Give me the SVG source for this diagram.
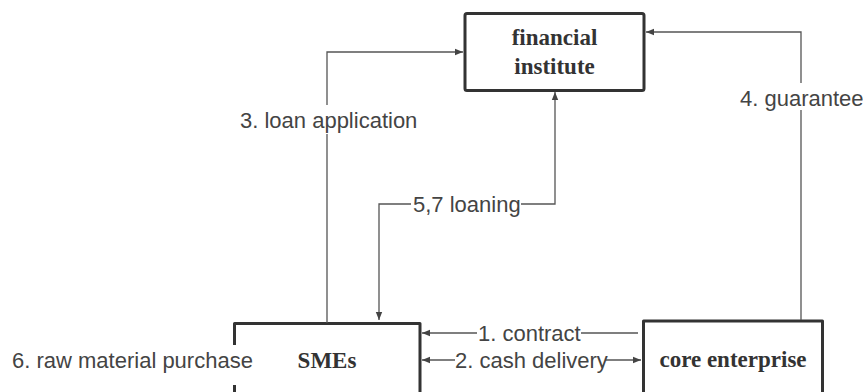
<svg xmlns="http://www.w3.org/2000/svg" width="863" height="392" viewBox="0 0 863 392">
<defs>
<style>
.box{fill:none;stroke:#333;stroke-width:3;stroke-linejoin:round}
.title{font-family:"Liberation Serif","Times New Roman",serif;font-weight:bold;font-size:23px;fill:#333;text-anchor:middle}
.lbl{font-family:"Liberation Sans",Arial,sans-serif;font-size:22px;fill:#444}
.ln{fill:none;stroke:#555;stroke-width:1.3}
</style>
<marker id="ah" viewBox="0 0 10 10" refX="10" refY="5" markerWidth="8" markerHeight="8" markerUnits="userSpaceOnUse" orient="auto">
<path d="M0,1 L10,5 L0,9 Z" fill="#444"/>
</marker>
</defs>
<rect width="863" height="392" fill="#fff"/>
<g id="financial-institute">
<rect class="box" x="465" y="13.5" width="179" height="77" rx="2"/>
<text class="title" x="554.5" y="45">financial</text>
<text class="title" x="554.5" y="74">institute</text>
</g>
<g id="smes">
<path class="box" d="M234.5,345 V323.5 H420 V400 M234.5,385 V400"/>
<text class="title" x="327" y="368">SMEs</text>
</g>
<g id="core-enterprise">
<path class="box" d="M643.5,400 V321 H822.5 V400"/>
<text class="title" x="733" y="367">core enterprise</text>
</g>
<g id="connectors">
<path class="ln" d="M327,323 V134 M327,105 V52 H463" marker-end="url(#ah)"/>
<path class="ln" d="M801,320 V110 M801,83 V32 H646" marker-end="url(#ah)"/>
<path class="ln" d="M521,204 H555 V92" marker-end="url(#ah)"/>
<path class="ln" d="M411,204 H379 V320" marker-end="url(#ah)"/>
<path class="ln" d="M477,333 H422" marker-end="url(#ah)"/>
<path class="ln" d="M581,333 H638"/>
<path class="ln" d="M455,360 H422" marker-end="url(#ah)"/>
<path class="ln" d="M605,360 H641" marker-end="url(#ah)"/>
<text class="lbl" x="240" y="128">3. loan application</text>
<text class="lbl" x="740" y="106">4. guarantee</text>
<text class="lbl" x="413" y="212">5,7 loaning</text>
<text class="lbl" x="478" y="341">1. contract</text>
<text class="lbl" x="455" y="368">2. cash delivery</text>
<text class="lbl" x="12" y="368">6. raw material purchase</text>
</g>
</svg>
